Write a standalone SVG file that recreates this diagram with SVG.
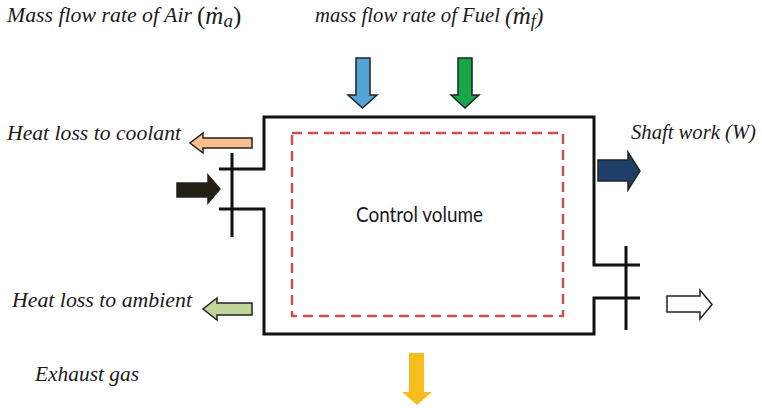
<svg xmlns="http://www.w3.org/2000/svg" width="762" height="408" viewBox="0 0 762 408">
<style>
.lbl{font-family:'Liberation Serif','Times New Roman',serif;font-style:italic;font-size:21px;fill:#1a1a1a}
.up{font-style:normal}
.cv{font-family:Lato,'Open Sans',sans-serif;font-size:21px;fill:#1a1a1a}
.wall{fill:none;stroke:#111;stroke-width:3}
.arr{stroke:#222;stroke-width:1.5;stroke-linejoin:miter}
</style>
<rect width="762" height="408" fill="#fff"/>
<g id="connectors">
<path class="wall" d="M219,169 H264 V117 H594 V265 H640"/>
<path class="wall" d="M219,209 H264 V334 H594 V298 H640"/>
<path class="wall" d="M232,153 V237 M626,246 V330"/>
</g>
<g id="control-volume">
<rect x="292" y="133" width="271" height="183" fill="none" stroke="#c9504f" stroke-width="2.5" stroke-dasharray="10 6"/>
<text class="cv" x="356" y="222" textLength="127" lengthAdjust="spacingAndGlyphs">Control volume</text>
</g>
<g id="air-label">
<text class="lbl" x="7" y="22" textLength="185" lengthAdjust="spacingAndGlyphs">Mass flow rate of Air</text>
<text class="lbl" x="197" y="24"><tspan class="up" font-size="25">(</tspan><tspan font-size="25">ṁ</tspan><tspan font-size="19" dy="3">a</tspan><tspan class="up" font-size="25" dy="-3">)</tspan></text>
</g>
<g id="fuel-label">
<text class="lbl" x="315" y="22" textLength="185" lengthAdjust="spacingAndGlyphs">mass flow rate of Fuel</text>
<text class="lbl" x="505" y="24"><tspan font-size="23">(</tspan><tspan font-size="25">ṁ</tspan><tspan font-size="18" dy="3">f</tspan><tspan font-size="23" dy="-3">)</tspan></text>
</g>
<g id="air-arrow">
<polygon class="arr" fill="#52a5d6" points="356,58 370,58 370,95 377,95 362.5,108 348,95 356,95"/>
</g>
<g id="fuel-arrow">
<polygon class="arr" fill="#15a84a" points="458,58 472,58 472,95 479,95 465,108 451,95 458,95"/>
</g>
<g id="coolant">
<text class="lbl" x="7" y="140" textLength="174" lengthAdjust="spacingAndGlyphs">Heat loss to coolant</text>
<polygon class="arr" fill="#fbbf8e" points="252,138 203,138 203,133 190,143 203,153 203,148 252,148"/>
</g>
<g id="inlet">
<polygon class="arr" fill="#231f14" points="177,183 208,183 208,175 220,189 208,203 208,197 177,197"/>
</g>
<g id="shaft-work">
<text class="lbl" x="631" y="139" textLength="125" lengthAdjust="spacingAndGlyphs">Shaft work (W)</text>
<polygon class="arr" fill="#1f3f6b" points="598,160 628,160 628,152 640,171 628,190 628,181 598,181"/>
</g>
<g id="ambient">
<text class="lbl" x="12" y="307" textLength="180" lengthAdjust="spacingAndGlyphs">Heat loss to ambient</text>
<polygon class="arr" fill="#c2d69b" points="252,303 217,303 217,298 203,309 217,320 217,315 252,315"/>
</g>
<g id="outlet">
<polygon class="arr" fill="#fff" points="667,296 700,296 700,290 712,304.5 700,319 700,312 667,312"/>
</g>
<g id="exhaust">
<text class="lbl" x="35" y="381" textLength="104" lengthAdjust="spacingAndGlyphs">Exhaust gas</text>
<polygon fill="#f7bd1d" points="409,353 424,353 424,392 432,392 417,405 402,392 409,392"/>
</g>
</svg>
